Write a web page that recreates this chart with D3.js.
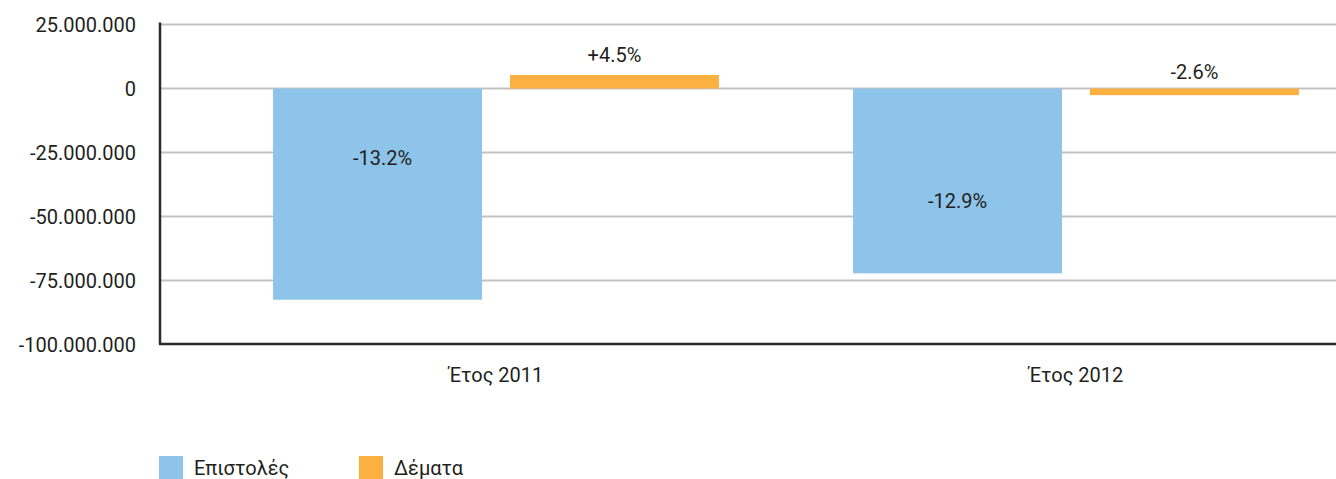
<!DOCTYPE html>
<html>
<head>
<meta charset="utf-8">
<script src="https://cdn.jsdelivr.net/npm/d3@7/dist/d3.min.js"></script>
<style>
  html, body { margin: 0; padding: 0; background: #fff; }
  svg { display: block; }
  text { font-family: Roboto, "Noto Sans", sans-serif; fill: #231f20; }
</style>
</head>
<body>
<svg id="chart" width="1336" height="479"></svg>
<script>
// Annual change in volume, letters vs parcels
const years = ["Έτος 2011", "Έτος 2012"];
const seriesNames = ["Επιστολές", "Δέματα"];
const letters = [-82500000, -72200000];
const parcels = [5300000, -2600000];
const letterLabels = ["-13.2%", "-12.9%"];
const parcelLabels = ["+4.5%", "-2.6%"];
const yTicks = [25000000, 0, -25000000, -50000000, -75000000, -100000000];
const colors = ["#8ec4ea", "#fbb040"];

const svg = d3.select("#chart");
const W = 1336;
const plotLeft = 160, plotTop = 24.5, plotBottom = 344.5;

const y = d3.scaleLinear().domain([-100000000, 25000000]).range([plotBottom, plotTop]);
const x = d3.scaleBand().domain(years).range([206, 1366]);
const xs = d3.scaleBand().domain(seriesNames).range([0, x.bandwidth()])
  .paddingInner(0.118).paddingOuter(0.283);

const fmt = v => d3.format(",")(v).replace(/,/g, ".").replace("−", "-");

// horizontal grid
svg.append("g").selectAll("line").data(yTicks.filter(t => t !== -100000000)).join("line")
  .attr("x1", plotLeft).attr("x2", W)
  .attr("y1", d => y(d)).attr("y2", d => y(d))
  .attr("stroke", "#c2c2c2").attr("stroke-width", 2);

// y tick labels
svg.append("g").selectAll("text").data(yTicks).join("text")
  .attr("x", 136).attr("y", d => y(d))
  .attr("dy", "0.36em")
  .attr("text-anchor", "end")
  .style("font-size", "20px")
  .text(d => fmt(d));

const rows = years.map((yr, i) => ({
  year: yr,
  items: [
    { s: seriesNames[0], v: letters[i], label: letterLabels[i], c: colors[0] },
    { s: seriesNames[1], v: parcels[i], label: parcelLabels[i], c: colors[1] }
  ]
}));

const groups = svg.append("g").selectAll("g").data(rows).join("g")
  .attr("transform", d => `translate(${x(d.year)},0)`);

groups.selectAll("rect").data(d => d.items).join("rect")
  .attr("x", d => xs(d.s))
  .attr("width", xs.bandwidth())
  .attr("y", d => y(Math.max(0, d.v)))
  .attr("height", d => Math.abs(y(d.v) - y(0)))
  .attr("fill", d => d.c);

// letter labels sit inside the bar, parcel labels above it
const insideDepth = [0.33, 0.61];
groups.each(function(d, gi) {
  const g = d3.select(this);
  d.items.forEach((it, k) => {
    let ty;
    if (k === 0) {
      ty = y(0) + (y(it.v) - y(0)) * insideDepth[gi];
    } else {
      ty = y(Math.max(0, it.v)) - (it.v > 0 ? 20 : 17);
    }
    g.append("text")
      .attr("x", xs(it.s) + xs.bandwidth() / 2 + (k === 0 && gi === 0 ? 5 : 0))
      .attr("y", ty)
      .attr("dy", "0.36em")
      .attr("text-anchor", "middle")
      .style("font-size", "20px")
      .text(it.label);
  });
});

// axis lines
svg.append("line").attr("x1", plotLeft).attr("x2", plotLeft).attr("y1", plotTop - 2).attr("y2", plotBottom)
  .attr("stroke", "#2b2b2b").attr("stroke-width", 2.5);
svg.append("line").attr("x1", plotLeft - 1).attr("x2", W).attr("y1", plotBottom - 0.5).attr("y2", plotBottom - 0.5)
  .attr("stroke", "#2b2b2b").attr("stroke-width", 2.5);

// category labels
svg.append("g").selectAll("text").data(years).join("text")
  .attr("x", d => x(d) + x.bandwidth() / 2)
  .attr("y", 375)
  .attr("dy", "0.36em")
  .attr("text-anchor", "middle")
  .style("font-size", "20px")
  .text(d => d);

// legend
const lg = svg.append("g").selectAll("g").data(seriesNames).join("g")
  .attr("transform", (d, i) => `translate(${159 + i * 200},456)`);
lg.append("rect").attr("width", 24).attr("height", 24).attr("fill", (d, i) => colors[i]);
lg.append("text").attr("x", 35).attr("y", 12).attr("dy", "0.36em")
  .style("font-size", "20px").text(d => d);
</script>
</body>
</html>
